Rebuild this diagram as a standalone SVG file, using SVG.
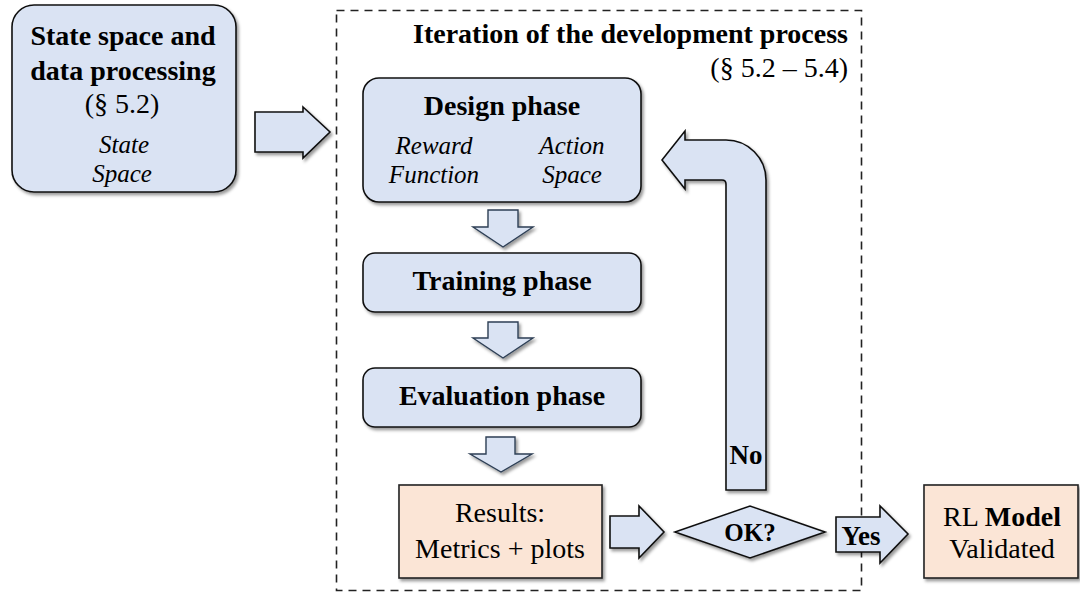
<svg xmlns="http://www.w3.org/2000/svg" width="1080" height="596" viewBox="0 0 1080 596">
<defs>
<filter id="sh" x="-10%" y="-10%" width="130%" height="130%">
<feDropShadow dx="2" dy="2.5" stdDeviation="1.5" flood-color="#000" flood-opacity="0.4"/>
</filter>
<style>
.blue{fill:#dae3f3;stroke:#111;stroke-width:1.6;filter:url(#sh)}
.peach{fill:#fbe5d6;stroke:#222;stroke-width:1.6;filter:url(#sh)}
.darr{fill:#dae3f3;stroke:#2e3f55;stroke-width:1.4;filter:url(#sh)}
text{font-family:"Liberation Serif","Times New Roman",serif;fill:#000;font-size:28px}
.b{font-weight:bold}
.i{font-style:italic;font-size:25px}
.c{text-anchor:middle}
.r{text-anchor:end}
.s{font-size:27px}
</style>
</defs>
<g id="state-space">
<rect class="blue" x="12" y="5" width="224" height="187" rx="22"/>
<text class="b c" x="123" y="45">State space and</text>
<text class="b c" x="123" y="80">data processing</text>
<text class="c" x="122" y="113">(§ 5.2)</text>
<text class="i c" x="124" y="153">State</text>
<text class="i c" x="122" y="182">Space</text>
</g>
<g id="iteration">
<rect x="336.5" y="10.5" width="525" height="580" fill="none" stroke="#222" stroke-width="1.6" stroke-dasharray="8,6"/>
<text class="b r" x="848" y="43">Iteration of the development process</text>
<text class="r" x="848" y="77">(§ 5.2 – 5.4)</text>
</g>
<g id="design">
<rect class="blue" x="363" y="78" width="278" height="124" rx="16"/>
<text class="b c" x="502" y="115">Design phase</text>
<text class="i c" x="434" y="154">Reward</text>
<text class="i c" x="434" y="183">Function</text>
<text class="i c" x="572" y="154">Action</text>
<text class="i c" x="572" y="183">Space</text>
</g>
<g id="training">
<rect class="blue" x="363" y="253" width="278" height="59" rx="12"/>
<text class="b c" x="502" y="290">Training phase</text>
</g>
<g id="evaluation">
<rect class="blue" x="363" y="368" width="278" height="59" rx="12"/>
<text class="b c" x="502" y="405">Evaluation phase</text>
</g>
<g id="results">
<rect class="peach" x="399" y="485" width="203" height="93"/>
<text class="c" x="500" y="522">Results:</text>
<text class="c" x="500" y="558">Metrics + plots</text>
</g>
<g id="ok">
<polygon class="blue" points="675,532 750,506 825,532 750,558"/>
<text class="b c" x="750" y="541" style="font-size:25px">OK?</text>
</g>
<g id="model">
<rect class="peach" x="924" y="485" width="154" height="93"/>
<text class="c" x="1002" y="526">RL <tspan class="b">Model</tspan></text>
<text class="c" x="1002" y="558">Validated</text>
</g>
<g id="connectors">
<polygon class="blue" points="255,112 303,112 303,107 330,132 303,158 303,152 255,152"/>
<polygon class="darr" points="488,210 518,210 518,227 533,227 503,247 473,227 488,227"/>
<polygon class="darr" points="488,322 518,322 518,338 533,338 503,358 473,338 488,338"/>
<polygon class="darr" points="486,437 515,437 515,454 532,454 501,472 470,454 486,454"/>
<polygon class="blue" points="610,516 639,516 639,506 664,532 639,558 639,548 610,548"/>
<path class="blue" d="M726,490 L726,184 Q726,180 722,180 L685,180 L685,189 L662,160 L685,131 L685,140 L726,140 A40,40 0 0 1 766,180 L766,490 Z"/>
<text class="b c s" x="746" y="464">No</text>
<polygon class="blue" points="836,517 880,517 880,506 908,534 880,563 880,552 836,552"/>
<text class="b c s" x="861" y="545">Yes</text>
</g>
</svg>
